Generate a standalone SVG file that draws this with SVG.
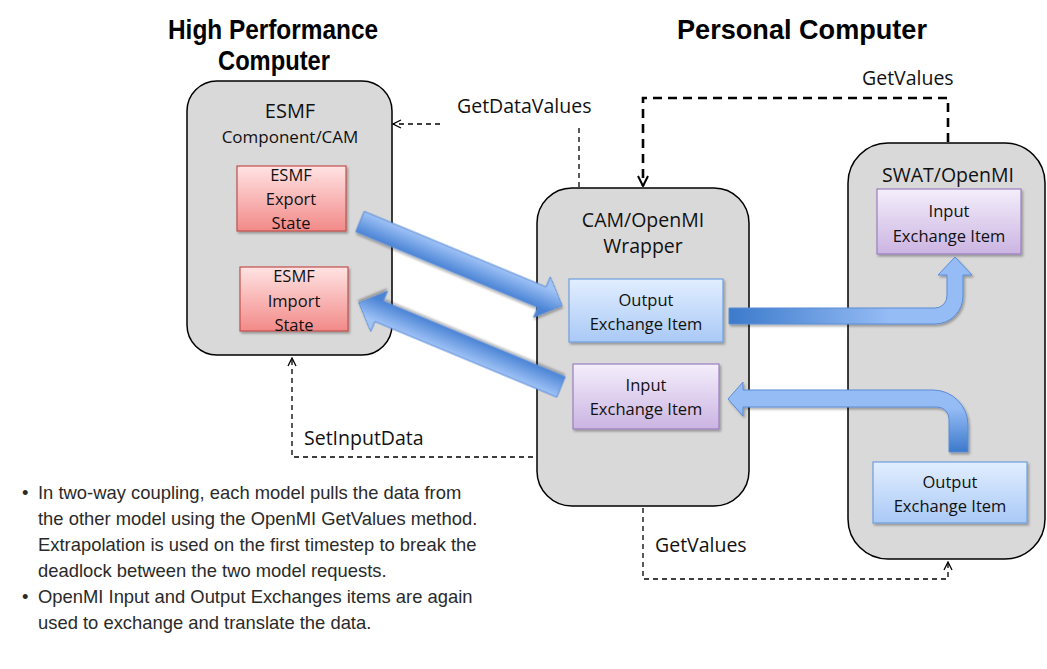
<svg xmlns="http://www.w3.org/2000/svg" width="1047" height="669" viewBox="0 0 1047 669">
<defs>
<style>
.box{fill:#d9d9d9;stroke:#000;stroke-width:1.5}
.t{font-family:"Open Sans","Liberation Sans",sans-serif;fill:#111;text-anchor:middle}
.title{font-family:"Liberation Sans",Arial,sans-serif;font-weight:bold;font-size:28px;text-anchor:middle;fill:#000}
.lbl{font-family:"Open Sans","Liberation Sans",sans-serif;font-size:19.5px;fill:#111}
.dash{fill:none;stroke:#000;stroke-width:1.3;stroke-dasharray:5 4}
.dashb{fill:none;stroke:#000;stroke-width:2.6;stroke-dasharray:9 6}
.bul{font-family:"Liberation Sans",Arial,sans-serif;font-size:18.4px;fill:#2a2a2a}
.red{fill:url(#gRed);stroke:#c0504d;stroke-width:1.2}
.blue{fill:url(#gBlue);stroke:#6f9fdc;stroke-width:1.2}
.pur{fill:url(#gPur);stroke:#9a7fbf;stroke-width:1.2}
.sh{filter:url(#shadow)}
.barrow{stroke:#5a8bd6;stroke-width:1}
</style>
<linearGradient id="gRed" x1="0" y1="0" x2="0" y2="1"><stop offset="0" stop-color="#ffe3e3"/><stop offset="1" stop-color="#f28a88"/></linearGradient>
<linearGradient id="gBlue" x1="0" y1="0" x2="0" y2="1"><stop offset="0" stop-color="#e2eeff"/><stop offset="1" stop-color="#a9c9f6"/></linearGradient>
<linearGradient id="gPur" x1="0" y1="0" x2="0" y2="1"><stop offset="0" stop-color="#f4eefb"/><stop offset="1" stop-color="#cbb4e2"/></linearGradient>
<linearGradient id="gDiag" gradientUnits="userSpaceOnUse" x1="0" y1="-11" x2="0" y2="11"><stop offset="0" stop-color="#a0c3f6"/><stop offset="1" stop-color="#4b84d5"/></linearGradient>
<linearGradient id="gA3" gradientUnits="userSpaceOnUse" x1="729" y1="0" x2="890" y2="0"><stop offset="0" stop-color="#3c7acb"/><stop offset="1" stop-color="#95bcf5"/></linearGradient>
<linearGradient id="gA4" gradientUnits="userSpaceOnUse" x1="0" y1="452" x2="0" y2="408"><stop offset="0" stop-color="#3c7acb"/><stop offset="1" stop-color="#95bcf5"/></linearGradient>
<filter id="shadow" x="-10%" y="-10%" width="130%" height="140%"><feDropShadow dx="1.5" dy="2" stdDeviation="1.2" flood-color="#000" flood-opacity="0.3"/></filter>
<marker id="ah" viewBox="0 0 10 10" refX="9" refY="5" markerWidth="10" markerHeight="10" orient="auto" markerUnits="userSpaceOnUse"><path d="M1,1 L9,5 L1,9" fill="none" stroke="#000" stroke-width="1.3" stroke-dasharray="none"/></marker>
<marker id="ahb" viewBox="0 0 12 12" refX="11" refY="6" markerWidth="12" markerHeight="12" orient="auto" markerUnits="userSpaceOnUse"><path d="M1,1 L11,6 L1,11" fill="none" stroke="#000" stroke-width="2" stroke-dasharray="none"/></marker>
</defs>
<rect width="1047" height="669" fill="#fff"/>

<g id="titles">
<text class="title" x="273" y="39" textLength="210" lengthAdjust="spacingAndGlyphs">High Performance</text>
<text class="title" x="274" y="70" textLength="112" lengthAdjust="spacingAndGlyphs">Computer</text>
<text class="title" x="802" y="39" textLength="250" lengthAdjust="spacingAndGlyphs">Personal Computer</text>
</g>

<g id="esmf">
<rect class="box" x="187" y="81" width="205" height="274" rx="30"/>
<text class="t" x="290" y="118" font-size="20">ESMF</text>
<text class="t" x="290" y="143" font-size="17">Component/CAM</text>
</g>
<g id="esmf-export">
<rect class="red sh" x="237" y="166" width="109" height="65"/>
<text class="t" x="291" y="181" font-size="16.5">ESMF</text>
<text class="t" x="291" y="205" font-size="16.5">Export</text>
<text class="t" x="291" y="229" font-size="16.5">State</text>
</g>
<g id="esmf-import">
<rect class="red sh" x="240" y="267" width="108" height="64"/>
<text class="t" x="294" y="282" font-size="16.5">ESMF</text>
<text class="t" x="294" y="307" font-size="16.5">Import</text>
<text class="t" x="294" y="331" font-size="16.5">State</text>
</g>

<g id="wrapper">
<rect class="box" x="537" y="188" width="212" height="318" rx="35"/>
<text class="t" x="643" y="227" font-size="19.5">CAM/OpenMI</text>
<text class="t" x="643" y="253" font-size="19.5">Wrapper</text>
</g>
<g id="wrapper-output">
<rect class="blue sh" x="569" y="279" width="154" height="63"/>
<text class="t" x="646" y="306" font-size="16.5">Output</text>
<text class="t" x="646" y="330" font-size="16.5">Exchange Item</text>
</g>
<g id="wrapper-input">
<rect class="pur sh" x="573" y="364" width="146" height="65"/>
<text class="t" x="646" y="391" font-size="16.5">Input</text>
<text class="t" x="646" y="415" font-size="16.5">Exchange Item</text>
</g>

<g id="swat">
<rect class="box" x="848" y="143" width="197" height="416" rx="40"/>
<text class="t" x="948" y="182" font-size="19.5">SWAT/OpenMI</text>
</g>
<g id="swat-input">
<rect class="pur sh" x="877" y="189" width="144" height="65"/>
<text class="t" x="949" y="217" font-size="16.5">Input</text>
<text class="t" x="949" y="242" font-size="16.5">Exchange Item</text>
</g>
<g id="swat-output">
<rect class="blue sh" x="873" y="462" width="154" height="61"/>
<text class="t" x="950" y="488" font-size="16.5">Output</text>
<text class="t" x="950" y="512" font-size="16.5">Exchange Item</text>
</g>

<g id="connectors">
<path class="barrow sh" transform="translate(360,221.5) rotate(22.58)" fill="url(#gDiag)" d="M0,-11 L197,-11 L197,-22 L219,0 L197,22 L197,11 L0,11 Z"/>
<path class="barrow sh" transform="translate(561,387) rotate(202.58)" fill="url(#gDiag)" d="M0,-11 L197,-11 L197,-22 L219,0 L197,22 L197,11 L0,11 Z"/>
<path class="barrow sh" fill="url(#gA3)" d="M729,308 L935,308 A12,12 0 0 0 947,296 L947,275 L938,275 L955,257 L972,275 L963,275 L963,296 A28,28 0 0 1 935,324 L729,324 Z"/>
<path class="barrow sh" fill="url(#gA4)" d="M728,399 L743,382 L743,390 L933,390 A35,35 0 0 1 968,425 L968,452 L949,452 L949,419 A12,12 0 0 0 937,407 L743,407 L743,416 Z"/>

<path class="dash" d="M440,124 L393,124" marker-end="url(#ah)"/>
<path class="dash" d="M579,128 L579,187"/>
<path class="dashb" d="M948,142 L948,98 L643,98 L643,186" marker-end="url(#ahb)"/>
<path class="dash" d="M533,457 L292,457 L292,358" marker-end="url(#ah)"/>
<path class="dash" d="M643,508 L643,579 L948,579 L948,562" marker-end="url(#ah)"/>

<text class="lbl" x="457" y="113">GetDataValues</text>
<text class="lbl" x="862" y="85">GetValues</text>
<text class="lbl" x="304" y="445">SetInputData</text>
<text class="lbl" x="655" y="552">GetValues</text>
</g>

<g id="notes">
<text class="bul" x="22" y="499">•</text>
<text class="bul" x="38" y="499">In two-way coupling, each model pulls the data from</text>
<text class="bul" x="38" y="525">the other model using the OpenMI GetValues method.</text>
<text class="bul" x="38" y="551">Extrapolation is used on the first timestep to break the</text>
<text class="bul" x="38" y="577">deadlock between the two model requests.</text>
<text class="bul" x="22" y="603">•</text>
<text class="bul" x="38" y="603">OpenMI Input and Output Exchanges items are again</text>
<text class="bul" x="38" y="629">used to exchange and translate the data.</text>
</g>
</svg>
